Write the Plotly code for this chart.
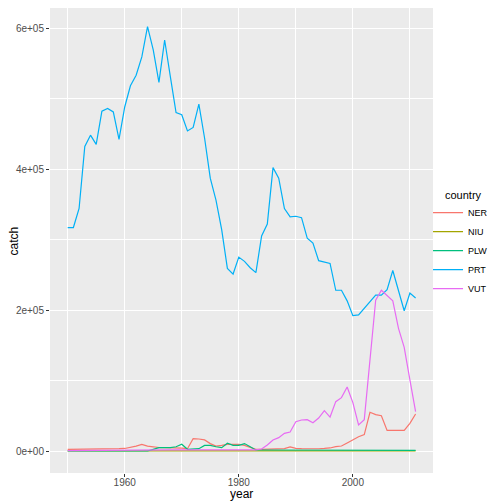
import plotly.graph_objects as go

years = list(range(1950, 2012))

ner = [2400, 2400, 2500, 2600, 2700, 2800, 2900, 3000, 3100, 3300, 3600,
       4800, 7000, 9500, 7000, 6000, 4800, 4800, 4800, 4500, 4000,
       3300, 17600, 17000, 15700, 10500, 7000, 8000, 9500, 9500, 9500,
       8000, 4800, 2400, 2400, 2600, 3000, 3300, 3300, 5700, 3800,
       3300, 3000, 3000, 3200, 3600, 4300, 6100, 7100, 11400, 15600,
       20300, 23200, 54900, 51600, 50100, 29300, 29300, 29300, 29300, 39300,
       52500]

niu = [100] * 62

plw = [0, 0, 0, 0, 0, 0, 0, 0, 0, 0, 0,
       0, 0, 0, 0, 2400, 4800, 4800, 4800, 6000, 9500,
       2400, 2400, 3300, 8000, 8000, 6000, 4800, 11000, 8000, 8000,
       10500, 6000, 1400, 1400, 1400, 1400, 1400, 1400, 1400, 1300,
       1300, 1300, 1300, 1200, 1200, 1200, 1200, 1200, 1200, 1200,
       1200, 1100, 1100, 1100, 1100, 1000, 1000, 1000, 1000, 1000,
       1000]

prt = [317000, 317000, 344000, 432000, 448000, 435000, 482000, 486000, 481000, 442000, 488000,
       518000, 533000, 559000, 602000, 569000, 523000, 583000, 531000, 480000, 477000,
       454000, 459000, 492000, 444000, 387000, 356000, 314000, 259000, 251000, 275000,
       269000, 260000, 253000, 305000, 322000, 402000, 387000, 344000, 332000, 333000,
       331000, 302000, 295000, 270000, 268000, 266000, 228000, 228000, 213000, 192000,
       193000, 202000, 212000, 221000, 221000, 229000, 256000, 226000, 199000, 224000,
       217000]

vut = [500, 500, 500, 600, 600, 700, 700, 800, 800, 900, 1000,
       1000, 1100, 1200, 1300, 1300, 1400, 1500, 1500, 1600, 1600,
       1700, 1700, 1800, 1800, 1900, 1900, 2000, 2000, 2000, 2000,
       2000, 2000, 1500, 2800, 8500, 15600, 18900, 25000, 27000, 41600,
       44000, 44500, 40200, 46800, 57200, 48200, 70000, 75700, 90800, 68600,
       36900, 44500, 129000, 214000, 228000, 221000, 213000, 174000, 147000, 101000,
       55800]

countries = ['NER', 'NIU', 'PLW', 'PRT', 'VUT']
series = [ner, niu, plw, prt, vut]
colors = ['#F8766D', '#A3A500', '#00BF7D', '#00B0F6', '#E76BF3']

fig = go.Figure()

for name, vals, col in zip(countries, series, colors):
    fig.add_trace(go.Scatter(x=years, y=vals, mode='lines', name=name,
                             line=dict(color=col, width=1.2)))

# axis / legend titles as annotations so they sit where ggplot puts them
fig.add_annotation(text='year', xref='paper', yref='paper', x=0.5, y=-0.046,
                   xanchor='center', yanchor='middle', showarrow=False,
                   font=dict(size=12))
fig.add_annotation(text='catch', xref='paper', yref='paper', x=-0.094, y=0.5,
                   xanchor='center', yanchor='middle', showarrow=False,
                   textangle=-90, font=dict(size=12))
fig.add_annotation(text='country', xref='paper', yref='paper', x=1.025, y=0.597,
                   xanchor='left', yanchor='middle', showarrow=False,
                   font=dict(size=11))

# page body has an 8px margin, so the figure is a bit smaller than the window
fig.update_layout(
    width=496, height=496,
    margin=dict(l=42, r=71, t=0, b=31, autoexpand=False),
    paper_bgcolor='white',
    plot_bgcolor='#EBEBEB',
    font=dict(family='Liberation Sans, Arial, sans-serif', size=12, color='black'),
    showlegend=True,
    legend=dict(font=dict(size=9),
                x=0.987, xanchor='left', y=0.591, yanchor='top',
                bgcolor='rgba(0,0,0,0)', tracegroupgap=0, itemwidth=30),
)

fig.update_xaxes(
    automargin=False,
    range=[1946.9, 2014.05],
    tickvals=[1960, 1980, 2000],
    ticks='outside', ticklen=3, tickcolor='#333333',
    ticklabelstandoff=-3,
    tickfont=dict(size=10, color='#4D4D4D'),
    gridcolor='white', gridwidth=1.1,
    minor=dict(tickvals=[1950, 1970, 1990, 2010], gridcolor='white', gridwidth=0.55),
    zeroline=False, showline=False,
)

fig.update_yaxes(
    automargin=False,
    range=[-31200, 628400],
    tickvals=[0, 200000, 400000, 600000],
    ticktext=['0e+00', '2e+05', '4e+05', '6e+05'],
    ticks='outside', ticklen=3, tickcolor='#333333',
    tickfont=dict(size=10, color='#4D4D4D'),
    gridcolor='white', gridwidth=1.1,
    minor=dict(tickvals=[100000, 300000, 500000], gridcolor='white', gridwidth=0.55),
    zeroline=False, showline=False,
)

fig.write_html("out.html")
